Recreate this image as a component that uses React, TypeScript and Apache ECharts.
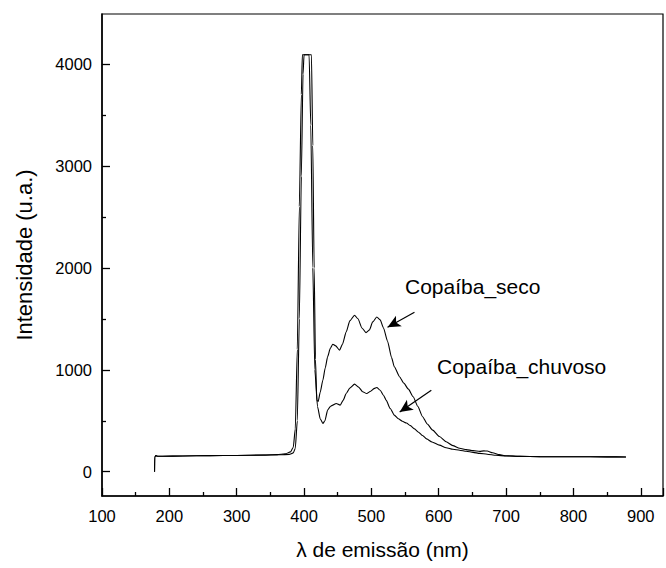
import React, { useEffect, useRef } from "react";
import * as echarts from "echarts";

// Emission wavelength (nm) and intensity (a.u.)
const secoX = [178, 178.3, 180, 183, 190, 220, 260, 300, 340, 365, 378, 384, 387, 390, 393, 396, 398.5, 400, 411, 413, 415, 417, 419, 421, 424, 428, 431.5, 435, 439, 442.7, 447, 452.7, 457, 462.6, 468, 475, 480, 486, 492, 497, 502, 508, 513, 518, 524, 530, 534, 542, 548, 555, 562, 569, 576, 583, 591, 601, 611, 621, 631, 641, 651, 661, 667, 672, 680, 690, 700, 720, 750, 800, 850, 878];
const secoY = [0, 145, 158, 152, 152, 155, 158, 160, 163, 166, 170, 185, 230, 500, 1500, 2900, 3900, 4090, 4090, 3200, 2000, 1100, 700, 690, 780, 900, 1020, 1127, 1210, 1251, 1235, 1192, 1250, 1372, 1480, 1535, 1500, 1410, 1365, 1390, 1470, 1518, 1490, 1410, 1280, 1120, 1030, 930, 870, 810, 735, 640, 540, 468, 408, 345, 294, 256, 230, 217, 207, 200, 205, 203, 186, 168, 157, 151, 148, 147, 146, 145];

const chuvosoX = [178, 178.3, 180, 183, 190, 220, 260, 300, 340, 360, 372, 380, 384, 387, 390, 393, 396, 397.5, 407.5, 410, 413, 416, 420, 424, 428, 431, 435, 439, 442.7, 447.7, 453.7, 458, 462.6, 468, 475, 481, 487, 493, 499, 504, 508, 513, 518, 522, 528, 534, 540, 546, 552, 558, 564, 570, 576, 582, 590, 601, 611, 621, 631, 641, 651, 661, 672, 685, 700, 720, 750, 800, 850, 878];
const chuvosoY = [0, 145, 158, 152, 152, 155, 158, 160, 164, 168, 175, 195, 240, 420, 1200, 2600, 3700, 4090, 4090, 3400, 2000, 1000, 640, 520, 474, 500, 604, 640, 653, 670, 653, 700, 767, 820, 859, 830, 785, 767, 790, 815, 826, 800, 750, 700, 620, 555, 520, 495, 478, 452, 420, 388, 355, 322, 292, 261, 236, 220, 211, 201, 190, 180, 172, 162, 155, 151, 148, 147, 146, 145];

const yMajorTicks = [0, 1000, 2000, 3000, 4000];
const yMinorTicks = [500, 1500, 2500, 3500];

const labelSeco = "Copaíba_seco";
const labelChuvoso = "Copaíba_chuvoso";
const arrowSeco = [[564, 1564], [524, 1417]];
const arrowChuvoso = [[589, 800], [542, 585]];

const FONT = "'Liberation Sans', Arial, sans-serif";

function zip(xs: number[], ys: number[]) {
  return xs.map((x, i) => [x, ys[i]]);
}

export default function App() {
  const ref = useRef<HTMLDivElement>(null);
  useEffect(() => {
    if (!ref.current) return;
    const chart = echarts.init(ref.current, null, { renderer: "svg" });
    const yMin = -238;
    const yMax = 4490;
    const commonY = {
      type: "value" as const,
      min: yMin,
      max: yMax,
      position: "left" as const,
      splitLine: { show: false },
    };
    chart.setOption({
      animation: false,
      backgroundColor: "#fff",
      grid: {
        left: 102,
        right: 3,
        top: 14,
        bottom: 72,
        show: true,
        borderColor: "#000",
        borderWidth: 1.2,
        containLabel: false,
      },
      xAxis: {
        type: "value",
        min: 100,
        max: 933,
        interval: 100,
        name: "λ de emissão (nm)",
        nameLocation: "middle",
        nameGap: 43,
        nameTextStyle: { fontFamily: FONT, fontSize: 21, color: "#000" },
        axisLine: { show: true, onZero: false, lineStyle: { color: "#000", width: 1.5 } },
        axisTick: { show: true, inside: true, length: 8, lineStyle: { color: "#000", width: 1.3 } },
        minorTick: { show: true, splitNumber: 2, length: 4, lineStyle: { color: "#000", width: 1.3 } },
        axisLabel: {
          fontFamily: FONT,
          fontSize: 16.5,
          color: "#000",
          margin: 11,
          showMaxLabel: false,
          formatter: (v: number) => (v % 100 === 0 && v <= 900 ? String(v) : ""),
        },
        splitLine: { show: false },
      },
      yAxis: [
        {
          ...commonY,
          name: "Intensidade (u.a.)",
          nameLocation: "middle",
          nameGap: 67,
          nameRotate: 90,
          nameTextStyle: { fontFamily: FONT, fontSize: 22, color: "#000" },
          axisLine: { show: true, onZero: false, lineStyle: { color: "#000", width: 1.5 } },
          axisTick: { show: true, inside: true, length: 8, customValues: yMajorTicks, lineStyle: { color: "#000", width: 1.3 } },
          axisLabel: {
            fontFamily: FONT,
            fontSize: 16.5,
            color: "#000",
            margin: 10,
            customValues: yMajorTicks,
            formatter: (v: number) => String(v),
          },
        },
        {
          ...commonY,
          axisLine: { show: false },
          axisTick: { show: true, inside: true, length: 4, customValues: yMinorTicks, lineStyle: { color: "#000", width: 1.3 } },
          axisLabel: { show: false },
        },
      ],
      series: [
        {
          type: "line",
          name: labelSeco,
          data: zip(secoX, secoY),
          showSymbol: false,
          smooth: 0.2,
          smoothMonotone: "x",
          lineStyle: { color: "#000", width: 1.1 },
          markLine: {
            silent: true,
            symbol: ["none", "arrow"],
            symbolSize: [9, 13],
            label: { show: false },
            lineStyle: { color: "#000", width: 1.2, type: "solid" },
            data: [[{ coord: arrowSeco[0] }, { coord: arrowSeco[1] }]],
          },
        },
        {
          type: "line",
          name: labelChuvoso,
          data: zip(chuvosoX, chuvosoY),
          showSymbol: false,
          smooth: 0.2,
          smoothMonotone: "x",
          lineStyle: { color: "#000", width: 1.1 },
          markLine: {
            silent: true,
            symbol: ["none", "arrow"],
            symbolSize: [9, 13],
            label: { show: false },
            lineStyle: { color: "#000", width: 1.2, type: "solid" },
            data: [[{ coord: arrowChuvoso[0] }, { coord: arrowChuvoso[1] }]],
          },
        },
      ],
      graphic: [
        {
          type: "text",
          left: 405,
          top: 276,
          style: { text: labelSeco, fontFamily: FONT, fontSize: 21, fill: "#000" },
        },
        {
          type: "text",
          left: 437,
          top: 356,
          style: { text: labelChuvoso, fontFamily: FONT, fontSize: 21, fill: "#000" },
        },
      ],
    });
    return () => chart.dispose();
  }, []);
  return (
    <div
      ref={ref}
      style={{ position: "fixed", left: 0, top: 0, width: 666, height: 568, background: "#fff" }}
    />
  );
}
